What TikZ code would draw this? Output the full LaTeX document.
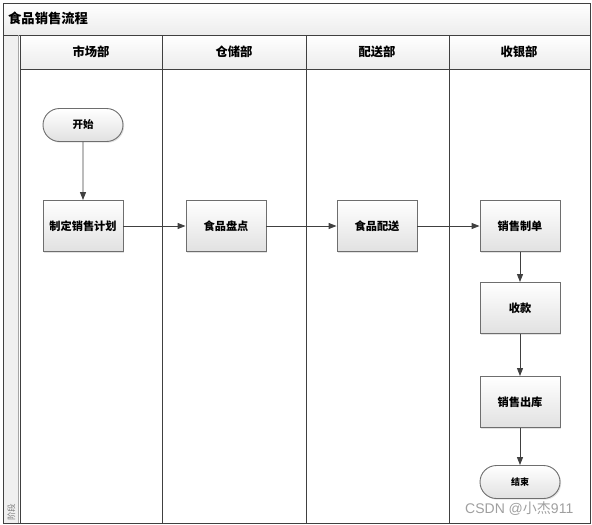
\documentclass[tikz,border=0pt]{standalone}
\usepackage{fontspec}
\newfontfamily\cjk{Noto Sans CJK SC}
\newfontfamily\wmfont{Liberation Sans}
\usetikzlibrary{arrows.meta,shadows,shapes.misc}
\definecolor{lineg}{HTML}{404040}
\definecolor{boxg}{HTML}{6E6E6E}
\definecolor{hdrbot}{HTML}{ECECEC}
\tikzset{
  procbox/.style={draw=boxg, line width=0.9pt, top color=white, bottom color=hdrbot!90!gray,
    minimum width=80pt, minimum height=51pt, inner sep=0pt,
    font=\cjk\bfseries\fontsize{11.2}{12}\selectfont,
    drop shadow={shadow xshift=1.2pt, shadow yshift=-1.2pt, fill=gray!45}},
  termbox/.style={draw=boxg, line width=0.9pt, rounded rectangle, top color=white, bottom color=hdrbot!90!gray,
    minimum width=80pt, minimum height=33pt, inner sep=0pt,
    drop shadow={shadow xshift=1.2pt, shadow yshift=-1.2pt, fill=gray!45}},
  flow/.style={draw=lineg, line width=0.9pt, -{Triangle[length=8pt,width=6pt]}},
  lane/.style={draw=lineg, line width=1pt},
  hdrtxt/.style={font=\cjk\bfseries\fontsize{12.3}{13}\selectfont},
}
\begin{document}
\begin{tikzpicture}[x=1pt,y=-1pt]
\useasboundingbox (0,0) rectangle (592,525);
% title bar
\fill[top color=white, bottom color=hdrbot] (3,3) rectangle (590,35);
% left strip
\fill[hdrbot!80] (3,35) rectangle (19,523);
% header row
\fill[top color=white, bottom color=hdrbot] (20,35) rectangle (590,69);
% lines
\draw[lane] (3,3) rectangle (590,523);
\draw[lane] (3,35) -- (590,35);
\draw[lane] (20,69) -- (590,69);
\draw[gray!70, line width=0.6pt] (18,35) -- (18,523);
\draw[lane] (20,35) -- (20,523);
\draw[lane] (162,35) -- (162,523);
\draw[lane] (306,35) -- (306,523);
\draw[lane] (449,35) -- (449,523);

\node[font=\cjk\bfseries\fontsize{13.3}{14}\selectfont, anchor=west, inner sep=0pt] (title) at (8,18) {食品销售流程};
\node[hdrtxt] (h1) at (91,52) {市场部};
\node[hdrtxt] (h2) at (234,52) {仓储部};
\node[hdrtxt] (h3) at (377,52) {配送部};
\node[hdrtxt] (h4) at (519,52) {收银部};
\node[font=\cjk\fontsize{8.5}{9}\selectfont, text=gray, rotate=90, anchor=west, inner sep=0pt] (stage) at (11.5,521) {阶段};

% nodes
\node[termbox, font=\cjk\bfseries\fontsize{10.5}{11}\selectfont] (start) at (83,125) {开始};
\node[procbox] (plan) at (83,226) {制定销售计划};
\node[procbox] (stock) at (226,226) {食品盘点};
\node[procbox] (deliv) at (377,226) {食品配送};
\node[procbox] (order) at (520,226) {销售制单};
\node[procbox] (pay) at (520,308) {收款};
\node[procbox] (out) at (520,402) {销售出库};
\node[termbox, font=\cjk\bfseries\fontsize{9}{10}\selectfont] (end) at (520,482) {结束};

\draw[flow] (start) -- (plan);
\draw[flow] (plan) -- (stock);
\draw[flow] (stock) -- (deliv);
\draw[flow] (deliv) -- (order);
\draw[flow] (order) -- (pay);
\draw[flow] (pay) -- (out);
\draw[flow] (out) -- (end);

\node[text=gray!75, anchor=west, inner sep=0pt] (wm) at (465,509) {\wmfont\fontsize{14}{15}\selectfont CSDN @\cjk 小杰\wmfont 911};
\end{tikzpicture}
\end{document}
